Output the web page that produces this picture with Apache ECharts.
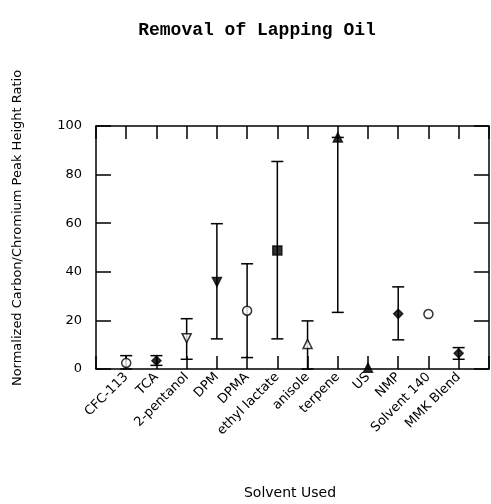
<!DOCTYPE html>
<html>
<head>
<meta charset="utf-8">
<script src="https://cdn.jsdelivr.net/npm/echarts@6/dist/echarts.min.js"></script>
<style>
  html, body { margin: 0; padding: 0; background: #fff; }
  #chart { width: 491px; height: 504px; }
</style>
</head>
<body>
<div id="chart"></div>
<script>
// 溶剂类别与读数
const solvents = ['CFC-113', 'TCA', '2-pentanol', 'DPM', 'DPMA', 'ethyl lactate',
  'anisole', 'terpene', 'US', 'NMP', 'Solvent 140', 'MMK Blend']
const ratioMean = [2.5, 3.4, 12.7, 35.8, 24, 48.8, 10.3, 95.3, 0.5, 22.7, 22.6, 6.5]
const ratioLow = [0, 1.5, 4, 12.4, 4.7, 12.4, 0, 23.3, null, 12, null, 4]
const ratioHigh = [5.5, 5.5, 20.7, 59.8, 43.3, 85.4, 19.8, 95.3, null, 33.8, null, 8.8]
const yTicks = [0, 20, 40, 60, 80, 100]

// 每个点的符号样式
const markers = [
  { symbol: 'circle', fill: '#fff' },
  { symbol: 'diamond', fill: '#000' },
  { symbol: 'triangle', fill: '#fff', rotate: 180 },
  { symbol: 'triangle', fill: '#000', rotate: 180 },
  { symbol: 'circle', fill: '#fff' },
  { symbol: 'rect', fill: '#000' },
  { symbol: 'triangle', fill: '#fff' },
  { symbol: 'triangle', fill: '#000' },
  { symbol: 'triangle', fill: '#000' },
  { symbol: 'diamond', fill: '#000' },
  { symbol: 'circle', fill: '#fff' },
  { symbol: 'diamond', fill: '#000' },
]

const font = 'DejaVu Sans'
const chart = echarts.init(document.getElementById('chart'))

const barData = []
for (let i = 0; i < solvents.length; i++) {
  if (ratioLow[i] !== null) {
    barData.push([i + 1, ratioLow[i], ratioHigh[i]])
  }
}

const pointData = ratioMean.map((v, i) => ({
  value: [i + 1, v],
  symbol: markers[i].symbol,
  symbolRotate: markers[i].rotate || 0,
  itemStyle: { color: markers[i].fill, borderColor: '#000', borderWidth: 1.5 },
}))

const xAxisBase = {
  type: 'value',
  min: 0,
  max: 13,
  interval: 1,
  splitLine: { show: false },
  axisLine: { onZero: false, lineStyle: { color: '#000', width: 1.5 } },
  axisTick: { inside: true, length: 13, lineStyle: { color: '#000', width: 1.5 } },
}
const yAxisBase = {
  type: 'value',
  min: 0,
  max: 100,
  interval: 20,
  splitLine: { show: false },
  axisLine: { show: true, onZero: false, lineStyle: { color: '#000', width: 1.5 } },
  axisTick: { show: true, inside: true, length: 15, lineStyle: { color: '#000', width: 1.5 } },
}

const option = {
  animation: false,
  grid: { left: 96, right: 2, top: 126, bottom: 135 },
  title: {
    text: 'Removal of Lapping Oil',
    left: 252,
    top: 16,
    textAlign: 'center',
    textStyle: { fontFamily: 'Liberation Mono', fontWeight: 'bold', fontSize: 18, color: '#000' },
  },
  graphic: [
    {
      type: 'text',
      x: 18,
      y: 228,
      rotation: Math.PI / 2,
      style: {
        text: 'Normalized Carbon/Chromium Peak Height Ratio',
        font: '13px "' + font + '"',
        fill: '#000',
        align: 'center',
        verticalAlign: 'middle',
      },
    },
    {
      type: 'text',
      x: 290,
      y: 493,
      style: {
        text: 'Solvent Used',
        font: '14px "' + font + '"',
        fill: '#000',
        align: 'center',
        verticalAlign: 'middle',
      },
    },
  ],
  xAxis: [
    Object.assign({}, xAxisBase, {
      position: 'bottom',
      axisLabel: {
        rotate: 45,
        margin: 6,
        fontFamily: font,
        fontSize: 13,
        color: '#000',
        formatter: (v) => solvents[v - 1] || '',
      },
    }),
    Object.assign({}, xAxisBase, { position: 'top', axisLabel: { show: false } }),
  ],
  yAxis: [
    Object.assign({}, yAxisBase, {
      position: 'left',
      axisLabel: {
        margin: 14,
        fontFamily: font,
        fontSize: 13,
        color: '#000',
        formatter: (v) => (yTicks.indexOf(v) >= 0 ? String(v) : ''),
      },
    }),
    Object.assign({}, yAxisBase, { position: 'right', axisLabel: { show: false } }),
  ],
  series: [
    {
      type: 'custom',
      xAxisIndex: 0,
      yAxisIndex: 0,
      data: barData,
      renderItem: function (params, api) {
        const x = api.value(0)
        const lo = api.coord([x, api.value(1)])
        const hi = api.coord([x, api.value(2)])
        const half = 6
        const style = { stroke: '#000', lineWidth: 1.5 }
        return {
          type: 'group',
          children: [
            { type: 'line', shape: { x1: lo[0], y1: lo[1], x2: hi[0], y2: hi[1] }, style },
            { type: 'line', shape: { x1: hi[0] - half, y1: hi[1], x2: hi[0] + half, y2: hi[1] }, style },
            { type: 'line', shape: { x1: lo[0] - half, y1: lo[1], x2: lo[0] + half, y2: lo[1] }, style },
          ],
        }
      },
      z: 2,
    },
    {
      type: 'scatter',
      xAxisIndex: 0,
      yAxisIndex: 0,
      symbolSize: 9,
      data: pointData,
      z: 3,
    },
  ],
}

chart.setOption(option)
</script>
</body>
</html>
